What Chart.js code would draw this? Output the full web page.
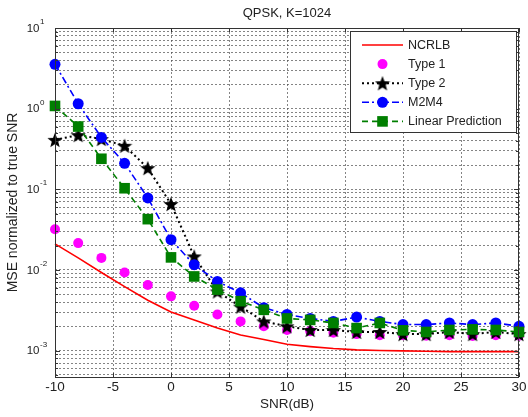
<!DOCTYPE html>
<html>
<head>
<meta charset="utf-8">
<title>QPSK, K=1024</title>
<script src="https://cdn.jsdelivr.net/npm/chart.js@4.4.1/dist/chart.umd.min.js"></script>
<style>
  html, body { margin: 0; padding: 0; background: #fff; }
  canvas { display: block; }
</style>
</head>
<body>
<canvas id="mse" width="528" height="417"></canvas>
<script>
// SNR sweep (dB) and normalized MSE of each estimator
const snr = [-10, -8, -6, -4, -2, 0, 2, 4, 6, 8, 10, 12, 14, 16, 18, 20, 22, 24, 26, 28, 30];
const ncrlb = [0.021, 0.0141, 0.0093, 0.0062, 0.0042, 0.0030, 0.0024, 0.0019, 0.00156, 0.00137, 0.0012,
  0.00112, 0.00106, 0.00102, 0.0010, 0.00099, 0.00098, 0.00097, 0.00097, 0.00097, 0.00097];
const type1 = [0.032, 0.0215, 0.0141, 0.0093, 0.0065, 0.0047, 0.0036, 0.0028, 0.0023, 0.0020, 0.0018,
  0.00174, 0.00166, 0.0016, 0.00155, 0.00155, 0.00153, 0.00155, 0.00152, 0.00155, 0.00153];
const type2 = [0.41, 0.47, 0.42, 0.346, 0.183, 0.0656, 0.0147, 0.0054, 0.0035, 0.0023, 0.0020,
  0.0018, 0.0018, 0.0017, 0.0017, 0.0016, 0.0016, 0.0017, 0.0016, 0.0017, 0.0016];
const m2m4 = [3.55, 1.15, 0.44, 0.21, 0.078, 0.0237, 0.0116, 0.0072, 0.0052, 0.0034, 0.0028,
  0.0025, 0.0023, 0.0026, 0.0023, 0.0021, 0.0021, 0.0022, 0.0021, 0.0022, 0.0020];
const linPred = [1.08, 0.6, 0.239, 0.103, 0.0426, 0.0143, 0.0083, 0.0057, 0.0041, 0.0032, 0.0025,
  0.0024, 0.0022, 0.0019, 0.0022, 0.00178, 0.0017, 0.0018, 0.00183, 0.0018, 0.0017];

// axis ticks
const xTicks = [-10, -5, 0, 5, 10, 15, 20, 25, 30];
const yDecades = [-3, -2, -1, 0, 1];
const yMin = 4.7e-4, yMax = 10;

const FONT = '"Liberation Sans", Arial, Helvetica, sans-serif';
const TEXT = '#222';

// every 1..9 x 10^k inside the range gets a dotted grid line
const yGridTicks = [];
for (let d = -4; d <= 1; d++) {
  for (let m = 1; m <= 9; m++) {
    const v = m * Math.pow(10, d);
    if (v >= yMin * 0.999 && v <= yMax * 1.001) yGridTicks.push(v);
  }
}

const pts = arr => snr.map((x, i) => ({ x: x, y: arr[i] }));

// filled five-pointed star marker
function starMarker(size, color) {
  const c = document.createElement('canvas');
  c.width = c.height = size;
  const g = c.getContext('2d');
  const r = size / 2, ri = r * 0.42;
  g.beginPath();
  for (let i = 0; i < 10; i++) {
    const a = -Math.PI / 2 + i * Math.PI / 5;
    const rr = i % 2 ? ri : r;
    g.lineTo(r + rr * Math.cos(a), r + 0.8 + rr * Math.sin(a));
  }
  g.closePath();
  g.fillStyle = color;
  g.fill();
  return c;
}
const star = starMarker(16, '#000');

function drawMarker(ctx, ds, x, y) {
  const st = ds.pointStyle;
  if (!st || ds.pointRadius === 0) return;
  ctx.fillStyle = ds.pointBackgroundColor || ds.backgroundColor;
  if (st instanceof HTMLCanvasElement) {
    ctx.drawImage(st, x - st.width / 2, y - st.height / 2);
  } else if (st === 'rect') {
    const s = ds.pointRadius * Math.SQRT1_2;
    ctx.fillRect(x - s, y - s, 2 * s, 2 * s);
  } else {
    ctx.beginPath();
    ctx.arc(x, y, ds.pointRadius, 0, Math.PI * 2);
    ctx.fill();
  }
}

// box, inward tick marks, 10^k labels, title and the legend
const frame = {
  id: 'frame',
  afterDatasetsDraw(chart) {
    const ctx = chart.ctx;
    const a = chart.chartArea;
    const xs = chart.scales.x, ys = chart.scales.y;
    ctx.save();

    ctx.strokeStyle = '#333';
    ctx.lineWidth = 1;
    ctx.setLineDash([]);
    ctx.strokeRect(Math.round(a.left) + 0.5, Math.round(a.top) + 0.5,
      Math.round(a.right - a.left) - 1, Math.round(a.bottom - a.top));

    ctx.beginPath();
    xTicks.forEach(v => {
      const px = Math.round(xs.getPixelForValue(v)) + 0.5;
      ctx.moveTo(px, a.bottom); ctx.lineTo(px, a.bottom - 4);
      ctx.moveTo(px, a.top); ctx.lineTo(px, a.top + 4);
    });
    yGridTicks.forEach(v => {
      const py = Math.round(ys.getPixelForValue(v)) + 0.5;
      const len = Math.abs(Math.log10(v) - Math.round(Math.log10(v))) < 1e-9 ? 5 : 3;
      ctx.moveTo(a.left, py); ctx.lineTo(a.left + len, py);
      ctx.moveTo(a.right, py); ctx.lineTo(a.right - len, py);
    });
    ctx.stroke();

    // y tick labels as 10 with a raised exponent
    ctx.fillStyle = TEXT;
    ctx.textBaseline = 'middle';
    yDecades.forEach(k => {
      const py = ys.getPixelForValue(Math.pow(10, k));
      ctx.font = '11.5px ' + FONT;
      ctx.textAlign = 'right';
      ctx.fillText('10', 39.5, py + 0.5);
      ctx.font = '8px ' + FONT;
      ctx.textAlign = 'left';
      ctx.fillText(String(k), 40, py - 6);
    });

    ctx.font = '13px ' + FONT;
    ctx.textAlign = 'center';
    ctx.fillText('QPSK, K=1024', (a.left + a.right) / 2, 13);

    // legend
    const lx = 350, ly = 31, lw = 166, lh = 101;
    ctx.fillStyle = '#fff';
    ctx.fillRect(lx, ly, lw, lh);
    ctx.strokeStyle = '#333';
    ctx.strokeRect(lx + 0.5, ly + 0.5, lw, lh);
    chart.data.datasets.forEach((ds, i) => {
      const y = 45 + i * 19.1;
      if (ds.showLine !== false) {
        ctx.strokeStyle = ds.borderColor;
        ctx.lineWidth = ds.borderWidth;
        ctx.setLineDash(ds.borderDash || []);
        ctx.beginPath();
        ctx.moveTo(362, y); ctx.lineTo(403, y);
        ctx.stroke();
        ctx.setLineDash([]);
      }
      drawMarker(ctx, ds, 382.5, y);
      ctx.fillStyle = TEXT;
      ctx.font = '12.5px ' + FONT;
      ctx.textAlign = 'left';
      ctx.textBaseline = 'middle';
      ctx.fillText(ds.label, 408, y + 0.5);
    });

    ctx.restore();
  }
};

const gridStyle = { color: 'rgba(80,80,80,0.7)', lineWidth: 1, drawTicks: false };
const gridBorder = { display: false, dash: [2, 2] };

new Chart(document.getElementById('mse'), {
  type: 'line',
  data: {
    datasets: [
      { label: 'NCRLB', data: pts(ncrlb), borderColor: '#ff0000', borderWidth: 1.6,
        pointRadius: 0, pointStyle: false, order: 5 },
      { label: 'Type 1', data: pts(type1), showLine: false, pointStyle: 'circle', pointRadius: 5,
        backgroundColor: '#ff00ff', pointBackgroundColor: '#ff00ff', borderColor: '#ff00ff',
        pointBorderWidth: 0, order: 4 },
      { label: 'Type 2', data: pts(type2), borderColor: '#000', borderWidth: 2, borderDash: [2, 3],
        pointStyle: star, pointRadius: 7, pointBackgroundColor: '#000', order: 3 },
      { label: 'M2M4', data: pts(m2m4), borderColor: '#0000ff', borderWidth: 1.6, borderDash: [7, 3, 2, 3],
        pointStyle: 'circle', pointRadius: 5.5, pointBackgroundColor: '#0000ff', pointBorderWidth: 0, order: 2 },
      { label: 'Linear Prediction', data: pts(linPred), borderColor: '#007f00', borderWidth: 1.6,
        borderDash: [6, 4], pointStyle: 'rect', pointRadius: 7.5, pointBackgroundColor: '#007f00',
        pointBorderWidth: 0, order: 1 }
    ]
  },
  options: {
    responsive: false,
    animation: false,
    events: [],
    clip: false,
    elements: { line: { tension: 0 } },
    layout: { padding: { top: 28, right: 6, left: 0, bottom: 0 } },
    plugins: { legend: { display: false }, tooltip: { enabled: false }, title: { display: false } },
    scales: {
      x: {
        type: 'linear', min: -10, max: 30,
        afterBuildTicks: s => { s.ticks = xTicks.map(v => ({ value: v })); },
        afterFit: s => { s.height = 40; s.paddingLeft = 0; s.paddingRight = 0; },
        ticks: { autoSkip: false, maxRotation: 0, padding: 2, color: TEXT,
          font: { family: FONT, size: 13.5 } },
        grid: gridStyle,
        border: gridBorder,
        title: { display: true, text: 'SNR(dB)', color: TEXT, padding: { top: 0, bottom: 5 },
          font: { family: FONT, size: 13.5 } }
      },
      y: {
        type: 'logarithmic', min: yMin, max: yMax,
        afterBuildTicks: s => { s.ticks = yGridTicks.map(v => ({ value: v })); },
        afterFit: s => { s.width = 55; s.paddingTop = 0; s.paddingBottom = 0; },
        ticks: { display: false, autoSkip: false },
        grid: gridStyle,
        border: gridBorder,
        title: { display: true, text: 'MSE normalized to true SNR', color: TEXT,
          padding: { top: 5, bottom: 0 }, font: { family: FONT, size: 14 } }
      }
    }
  },
  plugins: [frame]
});
</script>
</body>
</html>
